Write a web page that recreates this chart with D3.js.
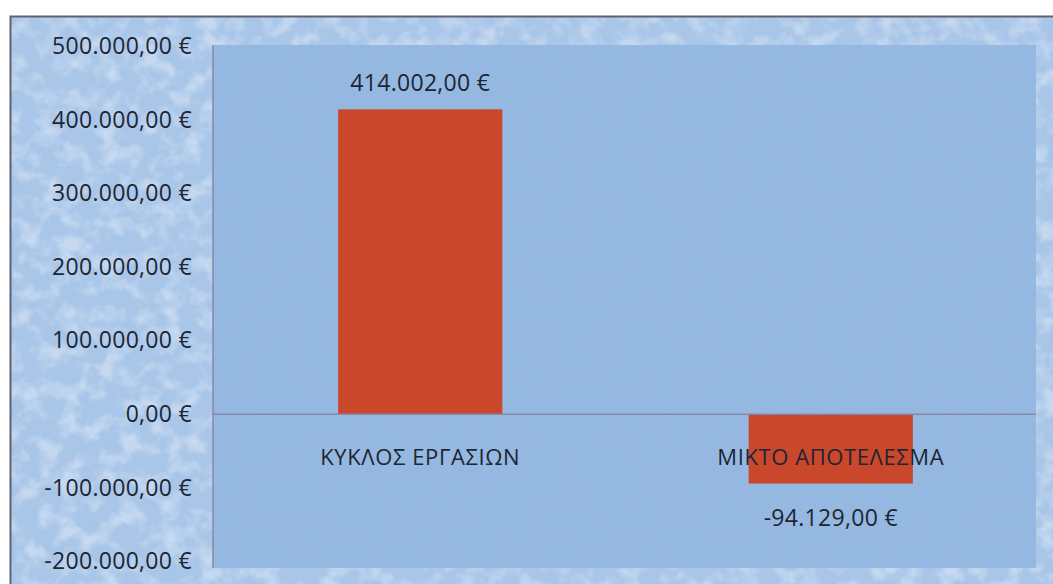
<!DOCTYPE html>
<html>
<head>
<meta charset="utf-8">
<script src="https://cdn.jsdelivr.net/npm/d3@7"></script>
<style>
  html, body { margin: 0; padding: 0; background: #ffffff; }
  svg { display: block; }
  text { font-family: "Open Sans", "Noto Sans", sans-serif; fill: #1e2533; }
</style>
</head>
<body>
<svg id="chart" width="1053" height="584"></svg>
<script>
// Chart data
const categories = ["ΚΥΚΛΟΣ ΕΡΓΑΣΙΩΝ", "ΜΙΚΤΟ ΑΠΟΤΕΛΕΣΜΑ"];
const values = [414002, -94129];
const yTicks = [-200000, -100000, 0, 100000, 200000, 300000, 400000, 500000];
const yDomain = [-200000, 500000];

// Greek euro number format: 414.002,00 €
const locale = d3.formatLocale({ decimal: ",", thousands: ".", grouping: [3], currency: ["", " €"], minus: "-" });
const fmt = v => locale.format(",.2f")(v) + " €";

const W = 1053, H = 584;
const svg = d3.select("#chart");

// Frame and plot area geometry
const frame = { x: 10.5, y: 16.5 };
const plot = { left: 213, right: 1036, top: 45, bottom: 568 };

const defs = svg.append("defs");
const tex = defs.append("filter").attr("id", "drops")
  .attr("x", 0).attr("y", 0).attr("width", "100%").attr("height", "100%");
tex.append("feTurbulence").attr("type", "fractalNoise")
  .attr("baseFrequency", "0.05 0.055").attr("numOctaves", 3).attr("seed", 7).attr("result", "n");
tex.append("feColorMatrix").attr("in", "n").attr("type", "matrix")
  .attr("values", "0 0 0 0 0.93  0 0 0 0 0.96  0 0 0 0 1  3.0 0 0 0 -1.3");
const tex2 = defs.append("filter").attr("id", "shade")
  .attr("x", 0).attr("y", 0).attr("width", "100%").attr("height", "100%");
tex2.append("feTurbulence").attr("type", "fractalNoise")
  .attr("baseFrequency", "0.07").attr("numOctaves", 2).attr("seed", 3).attr("result", "n");
tex2.append("feColorMatrix").attr("in", "n").attr("type", "matrix")
  .attr("values", "0 0 0 0 0.38  0 0 0 0 0.56  0 0 0 0 0.8  0 3 0 0 -1.4");

// Textured chart background
svg.append("rect").attr("x", frame.x).attr("y", frame.y)
  .attr("width", W).attr("height", H).attr("fill", "#a9c6e8");
svg.append("rect").attr("x", frame.x).attr("y", frame.y)
  .attr("width", W).attr("height", H).attr("filter", "url(#shade)").attr("opacity", 0.45);
svg.append("rect").attr("x", frame.x).attr("y", frame.y)
  .attr("width", W).attr("height", H).attr("filter", "url(#drops)").attr("opacity", 0.38);

// Plot area
svg.append("rect").attr("x", plot.left).attr("y", plot.top)
  .attr("width", plot.right - plot.left).attr("height", plot.bottom - plot.top)
  .attr("fill", "#93b6df").attr("opacity", 0.92);

// Frame border
svg.append("rect").attr("x", frame.x).attr("y", frame.y)
  .attr("width", W + 20).attr("height", H + 20)
  .attr("fill", "none").attr("stroke", "#5f6070").attr("stroke-width", 2);

// Scales
const x = d3.scaleBand().domain(categories)
  .range([plot.left + 2, plot.right]).paddingInner(0.6).paddingOuter(0.3);
const y = d3.scaleLinear().domain(yDomain).range([561.5, 46]);

// Bars
svg.append("g").selectAll("rect").data(values).join("rect")
  .attr("x", (d, i) => x(categories[i]))
  .attr("width", x.bandwidth())
  .attr("y", d => y(Math.max(0, d)))
  .attr("height", d => Math.abs(y(d) - y(0)))
  .attr("fill", "#c9472b");

// Y axis
const yAxis = svg.append("g").attr("transform", `translate(${plot.left},0)`)
  .call(d3.axisLeft(y).tickValues(yTicks).tickFormat(fmt).tickSize(0).tickPadding(21));
yAxis.select(".domain").attr("stroke", "#8a86a6").attr("stroke-width", 1.5)
  .attr("d", `M0,${plot.top}V${plot.bottom}`);
yAxis.selectAll("text").style("font-size", "23px").style("font-family", "\"Open Sans\", sans-serif")
  .attr("fill", "#1e2533").attr("letter-spacing", "0.3");

// Category axis on the zero line
const xAxis = svg.append("g").attr("transform", `translate(0,${y(0)})`)
  .call(d3.axisBottom(x).tickSize(0).tickPadding(35));
xAxis.select(".domain").attr("stroke", "#8a86a6").attr("stroke-width", 1.5)
  .attr("d", `M${plot.left},0H${plot.right}`);
xAxis.selectAll("text").style("font-size", "22px").style("font-family", "\"Open Sans\", sans-serif")
  .attr("fill", "#1e2533").attr("letter-spacing", "0.6");

// Value labels
svg.append("g").selectAll("text").data(values).join("text")
  .attr("x", (d, i) => x(categories[i]) + x.bandwidth() / 2)
  .attr("y", d => d >= 0 ? y(d) - 18 : y(d) + 42)
  .attr("text-anchor", "middle")
  .attr("letter-spacing", "0.3")
  .style("font-size", "23px")
  .text(d => fmt(d));
</script>
</body>
</html>
